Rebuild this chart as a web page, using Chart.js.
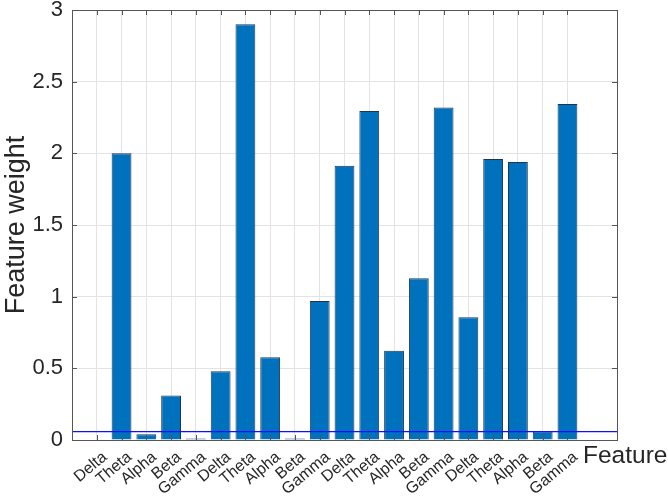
<!DOCTYPE html>
<html>
<head>
<meta charset="utf-8">
<script src="https://cdn.jsdelivr.net/npm/chart.js@4.4.1/dist/chart.umd.min.js"></script>
<style>
  html, body { margin: 0; padding: 0; background: #fff; }
  #wrap { width: 668px; height: 498px; }
</style>
</head>
<body>
<div id="wrap"><canvas id="weights-chart"></canvas></div>
<script>
// feature names (5 bands x 4 groups) and the weight of each
var bandNames = ["Delta", "Theta", "Alpha", "Beta", "Gamma",
                 "Delta", "Theta", "Alpha", "Beta", "Gamma",
                 "Delta", "Theta", "Alpha", "Beta", "Gamma",
                 "Delta", "Theta", "Alpha", "Beta", "Gamma"];
var featureWeights = [0.004, 2.0, 0.04, 0.31, 0.01,
                      0.48, 2.9, 0.577, 0.01, 0.97,
                      1.914, 2.296, 0.623, 1.128, 2.32,
                      0.856, 1.96, 1.94, 0.06, 2.345];
var thresholdValue = 0.058;
var xLimits = [0, 22];
var yTicks = [0, 0.5, 1, 1.5, 2, 2.5, 3];

var textColor = "#262626";
var axisColor = "#555555";
var fontFamily = "'Liberation Sans', Arial, Helvetica, sans-serif";
var labelAngle = 40;

var barPoints = [];
for (var i = 0; i < featureWeights.length; i++) {
    barPoints.push({x: i + 1, y: featureWeights[i]});
}
var linePoints = [{x: xLimits[0], y: thresholdValue}, {x: xLimits[1], y: thresholdValue}];

// MATLAB-like box with inward tick marks, rotated x labels and the x axis label
var boxPlugin = {
    id: "matlabBox",
    afterDatasetsDraw: function (chart) {
        var ctx = chart.ctx;
        var a = chart.chartArea;
        var xs = chart.scales.x, ys = chart.scales.y;
        var len = 5;
        ctx.save();
        ctx.strokeStyle = axisColor;
        ctx.lineWidth = 1;
        ctx.beginPath();
        for (var i = 1; i <= bandNames.length; i++) {
            var px = Math.round(xs.getPixelForValue(i)) + 0.5;
            ctx.moveTo(px, a.bottom); ctx.lineTo(px, a.bottom - len);
            ctx.moveTo(px, a.top); ctx.lineTo(px, a.top + len);
        }
        for (var j = 0; j < yTicks.length; j++) {
            var py = Math.round(ys.getPixelForValue(yTicks[j])) + 0.5;
            ctx.moveTo(a.left, py); ctx.lineTo(a.left + len, py);
            ctx.moveTo(a.right, py); ctx.lineTo(a.right - len, py);
        }
        ctx.stroke();
        ctx.strokeRect(Math.round(a.left) + 0.5, Math.round(a.top) + 0.5,
            Math.round(a.right - a.left), Math.round(a.bottom - a.top));

        ctx.fillStyle = textColor;
        ctx.font = "16px " + fontFamily;
        ctx.textAlign = "right";
        ctx.textBaseline = "top";
        for (var k = 0; k < bandNames.length; k++) {
            var lx = xs.getPixelForValue(k + 1) + 3;
            ctx.save();
            ctx.translate(lx, a.bottom + 9);
            ctx.rotate(-labelAngle * Math.PI / 180);
            ctx.fillText(bandNames[k], 0, 0);
            ctx.restore();
        }

        ctx.font = "24.5px " + fontFamily;
        ctx.textAlign = "left";
        ctx.textBaseline = "middle";
        ctx.fillText("Feature", a.right - 34, a.bottom + 16);
        ctx.restore();
    }
};

var config = {
    data: {
        datasets: [{
            type: "line",
            data: linePoints,
            borderColor: "#1010ff",
            borderWidth: 1.3,
            pointRadius: 0,
            order: 0
        }, {
            type: "bar",
            data: barPoints,
            backgroundColor: "#0072bd",
            borderColor: "#1e3550",
            borderWidth: 1,
            barPercentage: 0.8,
            categoryPercentage: 1.0,
            order: 1
        }]
    },
    options: {
        responsive: true,
        maintainAspectRatio: false,
        animation: false,
        layout: {padding: {left: 0, top: 10, right: 51, bottom: 0}},
        plugins: {legend: {display: false}, tooltip: {enabled: false}},
        scales: {
            x: {
                type: "linear",
                offset: false,
                min: xLimits[0],
                max: xLimits[1],
                afterFit: function (scale) {
                    scale.height = 58;
                    scale.paddingLeft = 0;
                    scale.paddingRight = 0;
                },
                afterBuildTicks: function (scale) {
                    var t = [];
                    for (var v = xLimits[0]; v <= xLimits[1]; v++) t.push({value: v});
                    scale.ticks = t;
                },
                ticks: {display: false, autoSkip: false},
                grid: {
                    offset: false,
                    drawTicks: false,
                    color: function (c) {
                        var v = c.tick ? c.tick.value : 0;
                        return (v >= 1 && v <= bandNames.length) ? "#e3e3e3" : "rgba(0,0,0,0)";
                    }
                },
                border: {display: false}
            },
            y: {
                min: 0,
                max: 3,
                afterFit: function (scale) {
                    scale.width = 72;
                    scale.paddingTop = 0;
                    scale.paddingBottom = 0;
                },
                afterBuildTicks: function (scale) {
                    scale.ticks = yTicks.map(function (v) { return {value: v}; });
                },
                ticks: {
                    color: textColor,
                    padding: 9,
                    font: {family: fontFamily, size: 22, lineHeight: 1},
                    callback: function (v) { return String(v); }
                },
                grid: {drawTicks: false, color: "#e3e3e3"},
                border: {display: false},
                title: {
                    display: true,
                    text: "Feature weight",
                    color: textColor,
                    padding: {top: 0, bottom: 0},
                    font: {family: fontFamily, size: 27, lineHeight: 1.25}
                }
            }
        }
    },
    plugins: [boxPlugin]
};

new Chart(document.getElementById("weights-chart").getContext("2d"), config);
</script>
</body>
</html>
